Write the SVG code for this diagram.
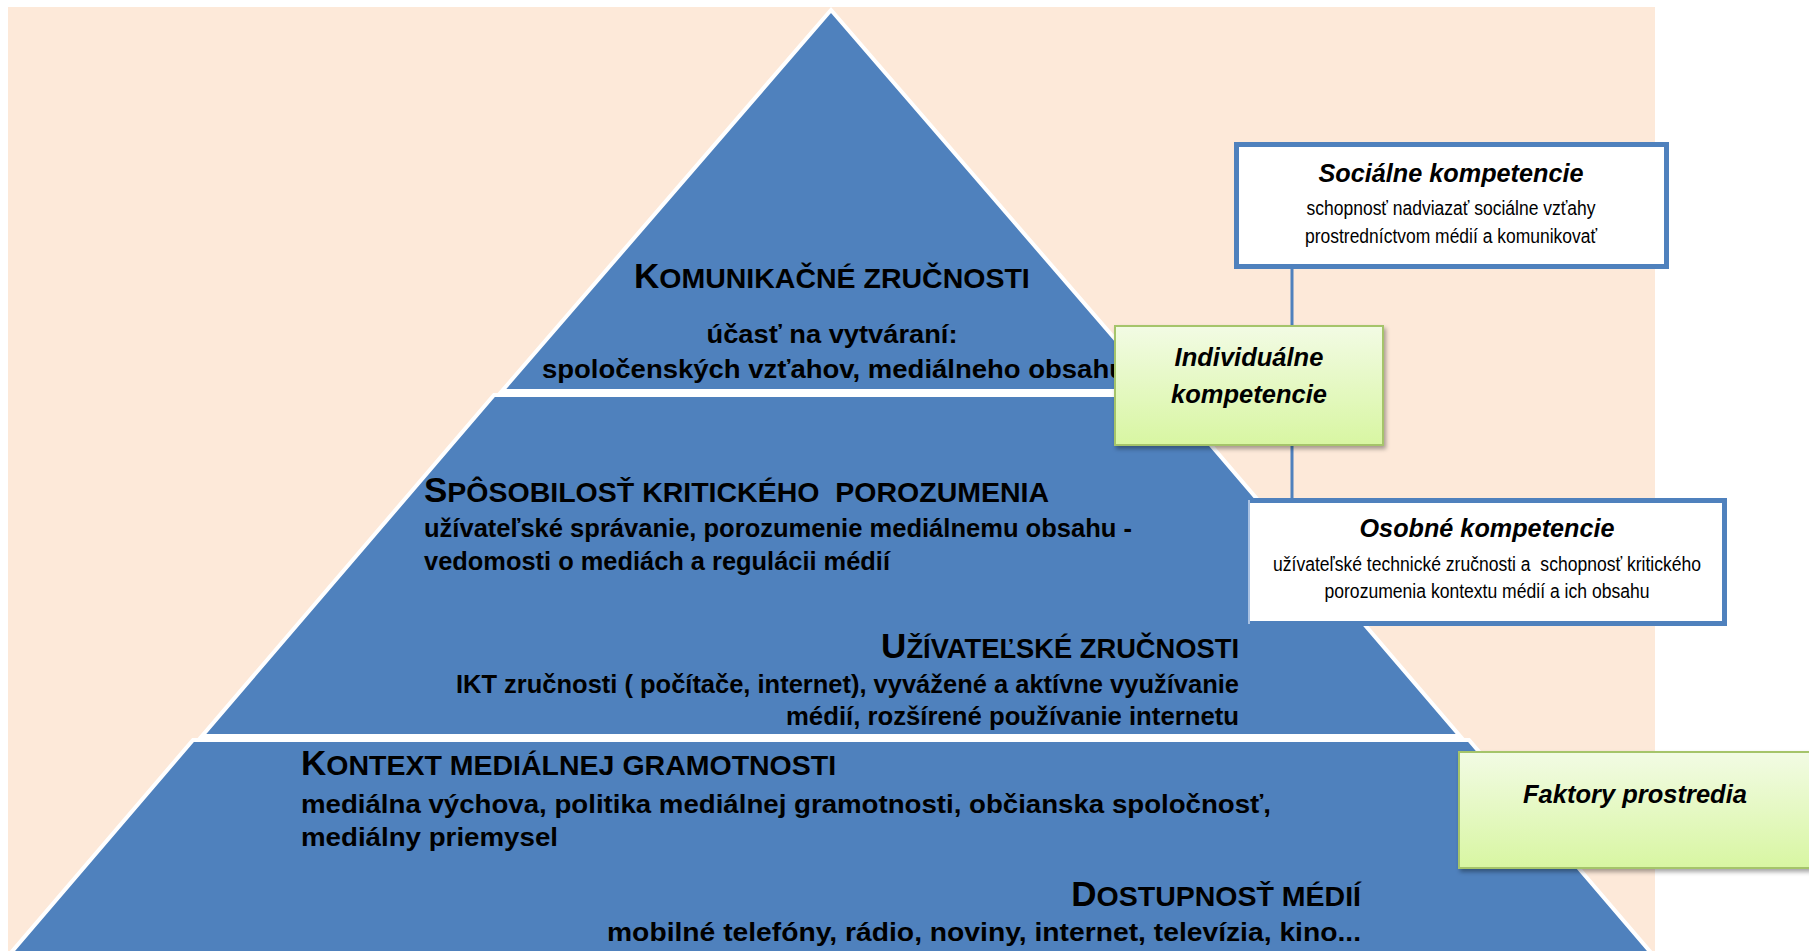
<svg xmlns="http://www.w3.org/2000/svg" width="1809" height="951" viewBox="0 0 1809 951">
  <defs>
    <linearGradient id="greenGrad" x1="0" y1="0" x2="0" y2="1">
      <stop offset="0" stop-color="#F2FBE4"/>
      <stop offset="1" stop-color="#D8F6A2"/>
    </linearGradient>
    <filter id="shadow" x="-10%" y="-10%" width="130%" height="130%">
      <feDropShadow dx="2" dy="3" stdDeviation="2" flood-color="#000" flood-opacity="0.35"/>
    </filter>
    <style>
      .tier { fill: #4F81BD; stroke: #FFFFFF; stroke-width: 4; stroke-linejoin: miter; }
      .hd { font-family: "Liberation Sans", Arial, sans-serif; font-weight: bold; fill: #000; white-space: pre; }
      .hd .big { font-size: 35px; }
      .hd .sm { font-size: 28.5px; }
      .body { font-family: "Liberation Sans", Arial, sans-serif; font-weight: bold; font-size: 25.5px; fill: #000; white-space: pre; }
      .green { fill: url(#greenGrad); stroke: #A5C46A; stroke-width: 2; filter: url(#shadow); }
      .white { fill: #FFFFFF; stroke: #4F81BD; stroke-width: 5; }
      .border { fill: none; stroke: #4F81BD; stroke-width: 5; }
      .title { font-family: "Liberation Sans", Arial, sans-serif; font-weight: bold; font-style: italic; font-size: 25.5px; fill: #000; text-anchor: middle; }
      .desc { font-family: "Liberation Sans Narrow", "Liberation Sans", Arial, sans-serif; font-size: 20px; fill: #000; text-anchor: middle; white-space: pre; }
      .conn { stroke: #4F81BD; stroke-width: 3; fill: none; }
    </style>
  </defs>

  <rect x="8" y="7" width="1647" height="944" fill="#FDE9D9"/>

  <g id="pyramid">
    <polygon class="tier" points="831,10 502,391 1160,391"/>
    <polygon class="tier" points="494,395 1168,395 1460,736 202,736"/>
    <polygon class="tier" points="193,740 1469,740 1653,955 9,955"/>
  </g>

  <g id="tier-komunikacne">
    <text class="hd" x="634" y="288"><tspan class="big">K</tspan><tspan class="sm">OMUNIKAČNÉ ZRUČNOSTI</tspan></text>
    <text class="body" x="832" y="343" font-size="27" text-anchor="middle" textLength="251" lengthAdjust="spacingAndGlyphs">účasť na vytváraní:</text>
    <text class="body" x="542" y="378" font-size="27" textLength="584" lengthAdjust="spacingAndGlyphs">spoločenských vzťahov, mediálneho obsahu</text>
  </g>

  <g id="tier-sposobilost">
    <text class="hd" x="424" y="502"><tspan class="big">S</tspan><tspan class="sm">PÔSOBILOSŤ KRITICKÉHO  POROZUMENIA</tspan></text>
    <text class="body" x="424" y="537" textLength="708" lengthAdjust="spacingAndGlyphs">užívateľské správanie, porozumenie mediálnemu obsahu -</text>
    <text class="body" x="424" y="570" textLength="466" lengthAdjust="spacingAndGlyphs">vedomosti o mediách a regulácii médií</text>
  </g>

  <g id="tier-uzivatelske">
    <text class="hd" x="1239" y="658" text-anchor="end"><tspan class="big">U</tspan><tspan class="sm" style="font-size:27.3px">ŽÍVATEĽSKÉ ZRUČNOSTI</tspan></text>
    <text class="body" x="1239" y="693" text-anchor="end" textLength="783" lengthAdjust="spacingAndGlyphs">IKT zručnosti ( počítače, internet), vyvážené a aktívne využívanie</text>
    <text class="body" x="1239" y="725" text-anchor="end" textLength="453" lengthAdjust="spacingAndGlyphs">médií, rozšírené používanie internetu</text>
  </g>

  <g id="tier-kontext">
    <text class="hd" x="301" y="775"><tspan class="big">K</tspan><tspan class="sm">ONTEXT MEDIÁLNEJ GRAMOTNOSTI</tspan></text>
    <text class="body" x="301" y="813" textLength="970" lengthAdjust="spacingAndGlyphs">mediálna výchova, politika mediálnej gramotnosti, občianska spoločnosť,</text>
    <text class="body" x="301" y="846" textLength="257" lengthAdjust="spacingAndGlyphs">mediálny priemysel</text>
  </g>

  <g id="tier-dostupnost">
    <text class="hd" x="1361" y="906" text-anchor="end"><tspan class="big">D</tspan><tspan class="sm">OSTUPNOSŤ MÉDIÍ</tspan></text>
    <text class="body" x="1361" y="941" text-anchor="end" textLength="754" lengthAdjust="spacingAndGlyphs">mobilné telefóny, rádio, noviny, internet, televízia, kino...</text>
  </g>

  <g id="connectors">
    <line class="conn" x1="1292" y1="269" x2="1292" y2="327"/>
    <line class="conn" x1="1292" y1="444" x2="1292" y2="499"/>
  </g>

  <g id="socialne">
    <rect class="white" x="1236.5" y="144.5" width="430" height="122"/>
    <text class="title" x="1451" y="182" textLength="265" lengthAdjust="spacingAndGlyphs">Sociálne kompetencie</text>
    <text class="desc" x="1451" y="215" textLength="289" lengthAdjust="spacingAndGlyphs">schopnosť nadviazať sociálne vzťahy</text>
    <text class="desc" x="1451" y="243" textLength="292" lengthAdjust="spacingAndGlyphs">prostredníctvom médií a komunikovať</text>
  </g>

  <g id="individualne">
    <rect class="green" x="1115" y="326" width="268" height="119"/>
    <text class="title" x="1249" y="366">Individuálne</text>
    <text class="title" x="1249" y="403">kompetencie</text>
  </g>

  <g id="osobne">
    <rect x="1248" y="498" width="479" height="128" fill="#FFFFFF"/>
    <path class="border" d="M1248,500.5 H1724.5 V623.5 H1248"/>
    <line x1="1249" y1="500" x2="1249" y2="624" stroke="#A9C1E2" stroke-width="2"/>
    <text class="title" x="1487" y="537" textLength="255" lengthAdjust="spacingAndGlyphs">Osobné kompetencie</text>
    <text class="desc" x="1487" y="571" textLength="428" lengthAdjust="spacingAndGlyphs">užívateľské technické zručnosti a  schopnosť kritického</text>
    <text class="desc" x="1487" y="598" textLength="325" lengthAdjust="spacingAndGlyphs">porozumenia kontextu médií a ich obsahu</text>
  </g>

  <g id="faktory">
    <rect class="green" x="1459" y="752" width="362" height="116"/>
    <text class="title" x="1635" y="803">Faktory prostredia</text>
  </g>
</svg>
